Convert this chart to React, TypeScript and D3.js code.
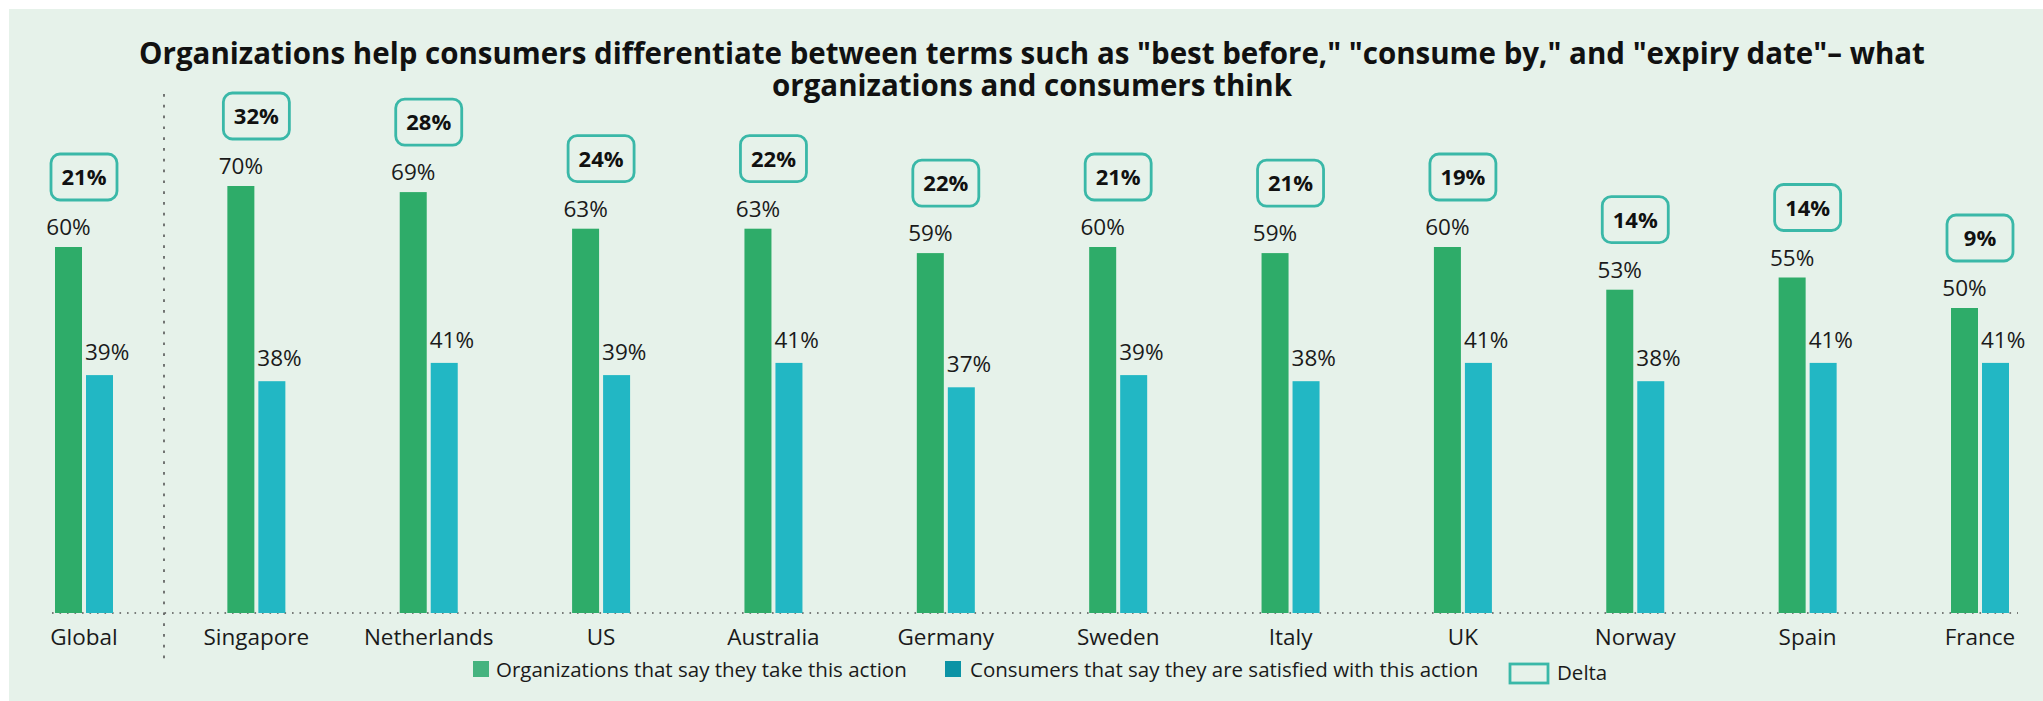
import React from "react";
import * as d3 from "d3";

const categories = ["Global", "Singapore", "Netherlands", "US", "Australia", "Germany", "Sweden", "Italy", "UK", "Norway", "Spain", "France"];
const organizations = [60, 70, 69, 63, 63, 59, 60, 59, 60, 53, 55, 50];
const consumers = [39, 38, 41, 39, 41, 37, 39, 38, 41, 38, 41, 41];
const delta = [21, 32, 28, 24, 22, 22, 21, 21, 19, 14, 14, 9];
const seriesNames = ["Organizations that say they take this action", "Consumers that say they are satisfied with this action", "Delta"];
const titleLines = [
  'Organizations help consumers differentiate between terms such as "best before," "consume by," and "expiry date"\u2013 what',
  "organizations and consumers think",
];

const W = 2043;
const H = 701;
const FONT = "'Open Sans', 'DejaVu Sans', sans-serif";
const GREEN = "#2eac69";
const TEAL = "#22b7c4";
const BOX = "#3ab8a8";
const BG = "#e6f2ea";

export default function App() {
  const x = d3.scalePoint<string>().domain(categories).range([84, 1980]);
  const y = d3.scaleLinear().domain([0, 100]).range([613, 3]);
  const barW = 27;
  const y0 = y(0);

  return (
    <svg width={W} height={H} style={{ position: "fixed", left: 0, top: 0, display: "block" }} fontFamily={FONT}>
      <rect x={9} y={9} width={W - 9} height={H - 9} fill={BG} />
      <text x={1032} y={64} textAnchor="middle" fontSize={29.5} fontWeight={700} fill="#111">
        {titleLines.map((t, i) => (
          <tspan key={i} x={1032} dy={i === 0 ? 0 : 32}>
            {t}
          </tspan>
        ))}
      </text>
      {/* baseline */}
      <line x1={52} x2={2018} y1={y0} y2={y0} stroke="#555" strokeWidth={1.6} strokeDasharray="1.6,5.9" />
      {/* separator */}
      <line x1={164} x2={164} y1={94} y2={662} stroke="#555" strokeWidth={1.6} strokeDasharray="2.7,8.1" />
      {categories.map((c, i) => {
        const cx = x(c)!;
        const g = organizations[i];
        const t = consumers[i];
        const gx = cx - 29;
        const tx = cx + 2;
        const boxCy = y(g) - 70;
        return (
          <g key={c}>
            <rect x={gx} y={y(g)} width={barW} height={y0 - y(g)} fill={GREEN} />
            <rect x={tx} y={y(t)} width={barW} height={y0 - y(t)} fill={TEAL} />
            <text x={gx + barW / 2} y={y(g) - 12} textAnchor="middle" fontSize={22.5} fill="#1a1a1a">
              {g}%
            </text>
            <text x={tx - 1} y={y(t) - 15} textAnchor="start" fontSize={22.5} fill="#1a1a1a">
              {t}%
            </text>
            <rect x={cx - 33} y={boxCy - 23} width={66} height={46} rx={9} ry={9} fill="none" stroke={BOX} strokeWidth={2.8} />
            <text x={cx} y={boxCy + 8} textAnchor="middle" fontSize={22} fontWeight={700} fill="#111">
              {delta[i]}%
            </text>
            <text x={cx} y={645} textAnchor="middle" fontSize={22.5} fill="#1a1a1a">
              {c}
            </text>
          </g>
        );
      })}
      {/* legend */}
      <rect x={473} y={661} width={16} height={16} fill="#45b37f" />
      <text x={496} y={677} fontSize={20.5} fill="#1a1a1a">{seriesNames[0]}</text>
      <rect x={945} y={661} width={16} height={16} fill="#0b93a5" />
      <text x={970} y={677} fontSize={20.5} fill="#1a1a1a">{seriesNames[1]}</text>
      <rect x={1510} y={664} width={38} height={19} fill="none" stroke={BOX} strokeWidth={2.8} />
      <text x={1557} y={680} fontSize={20.5} fill="#1a1a1a">{seriesNames[2]}</text>
    </svg>
  );
}
